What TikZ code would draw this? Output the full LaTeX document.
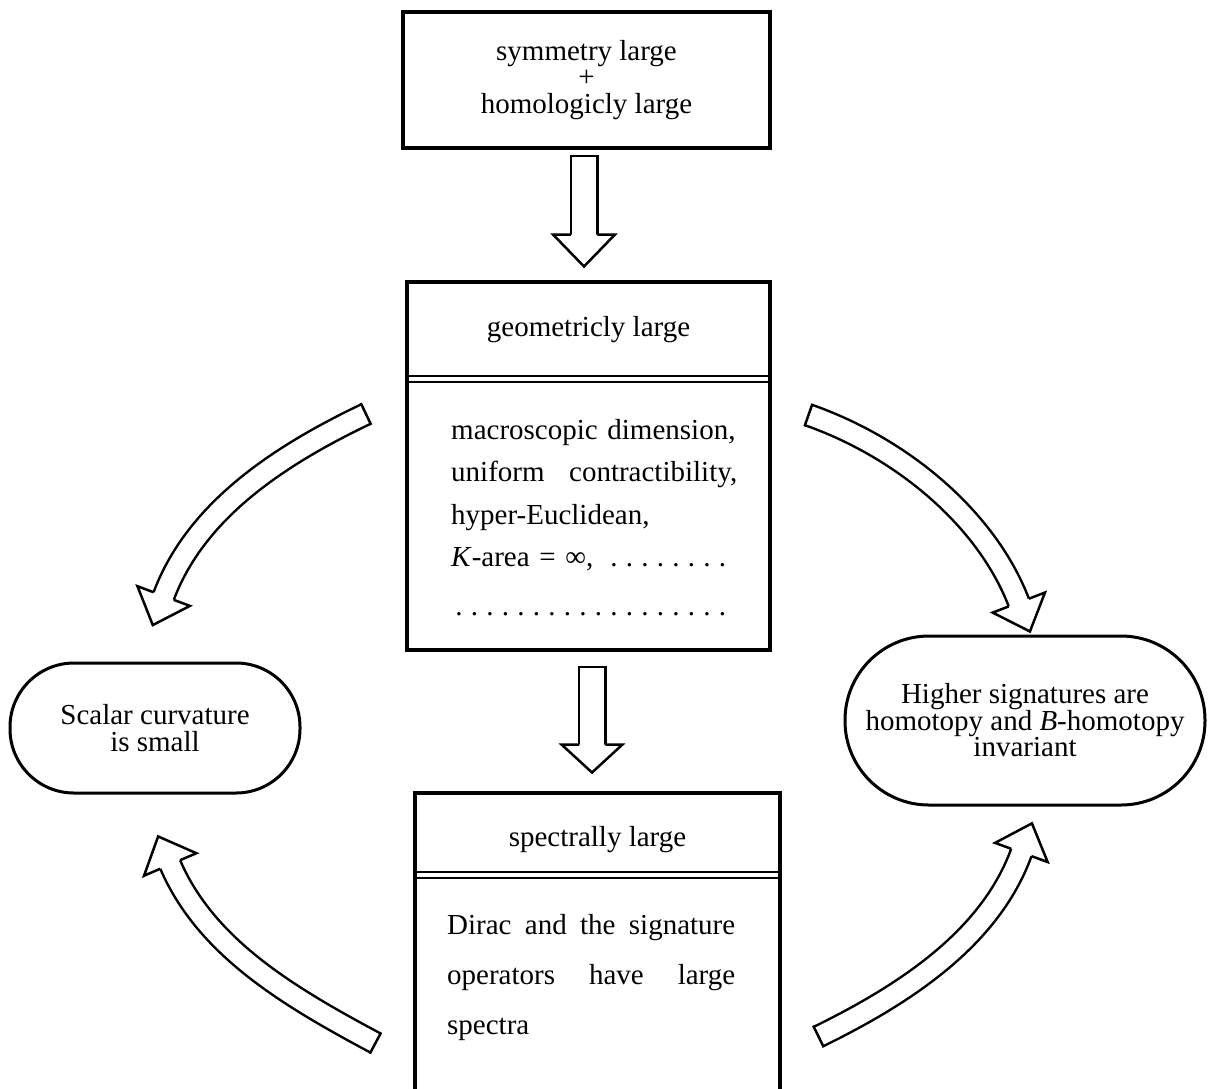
\documentclass[tikz,border=0pt]{standalone}
\usepackage{fontspec}
\setmainfont{Liberation Serif}
\usetikzlibrary{decorations.markings}
\setlength{\lineskiplimit}{-50pt}
\newcommand{\dotrow}{\leavevmode\leaders\hbox to 15.5pt{\hss.\hss}\hfill\kern0pt}

\begin{document}
\begin{tikzpicture}[x=1pt, y=-1pt,
    font=\fontsize{29pt}{26.5pt}\selectfont,
    box/.style={draw, line width=3.5pt, outer sep=0pt, inner sep=0pt},
    stadium/.style={draw, line width=3pt, align=center, inner sep=0pt},
    sep/.style={line width=1.8pt},
    bodytext/.style={anchor=north west, inner sep=0pt, text width=#1, align=left},
    hollow/.style n args={3}{white, line width=#1-5pt,
      preaction={draw, black, line width=#1},
      postaction={decorate},
      decoration={markings,
        mark=at position 0 with {\draw[black, line width=2.5pt] (0pt,-#1/2) -- (0pt,#1/2);},
        mark=at position -0.5pt with {\draw[black, fill=white, line width=2.5pt, line join=miter]
          (0pt,#1/2-1.25pt) -- (0pt,#2) -- (#3,0pt) -- (0pt,-#2) -- (0pt,-#1/2+1.25pt);}}}]
  \useasboundingbox (0,0) rectangle (1210,1088);
  \clip (0,0) rectangle (1210,1088);

  % the three boxes down the middle
  \node[box, minimum width=367pt, minimum height=136pt, align=center] (sym) at (586.5,80)
    {symmetry large\\+\\homologicly large};
  \node[box, minimum width=363pt, minimum height=368pt] (geo) at (588.5,466) {};
  \node[box, minimum width=365pt, minimum height=330pt, anchor=north] (spec) at (597.5,793) {};

  \node (geotitle) at (588.5,330) {geometricly large};
  \node (spectitle) at (597.5,840) {spectrally large};
  \foreach \d in {94,100}
    \draw[sep] ([yshift=-\d pt]geo.north west) -- ([yshift=-\d pt]geo.north east);
  \foreach \d in {79,85}
    \draw[sep] ([yshift=-\d pt]spec.north west) -- ([yshift=-\d pt]spec.north east);

  \node[bodytext=286pt, font=\fontsize{29pt}{42.5pt}\selectfont] (geobody) at (451,419)
    {macroscopic dimension,\\
     uniform \hfill contractibility,\\
     hyper-Euclidean,\\
     \textit{K}-area = ∞, \dotrow\\[6pt]
     \dotrow};
  \node[bodytext=288pt, font=\fontsize{29pt}{50pt}\selectfont] (specbody) at (447,914)
    {Dirac \hfill and \hfill the \hfill signature\\
     operators \hfill have \hfill large\\
     spectra};

  % the two sides
  \node[stadium, rounded corners=64pt, minimum width=290pt, minimum height=130pt] (scal) at (155,728)
    {Scalar curvature\\is small};
  \node[stadium, rounded corners=84pt, minimum width=360pt, minimum height=169pt] (sign) at (1025,720.5)
    {Higher signatures are\\homotopy and \textit{B}-homotopy\\invariant};

  % straight arrows
  \draw[hollow={29pt}{31pt}{32pt}] ([xshift=-2.5pt, yshift=-8pt]sym.south) -- ([xshift=-4.5pt, yshift=47pt]geo.north);
  \draw[hollow={29pt}{30.5pt}{28pt}] ([xshift=3.5pt, yshift=-17pt]geo.south) -- ([xshift=-5.5pt, yshift=48pt]spec.north);

  % bent arrows
  \coordinate (ul-tail) at (366,414);
  \coordinate (ul-head) at (163.5,596.5);
  \coordinate (ur-tail) at (808.5,415);
  \coordinate (ur-head) at (1019,603);
  \coordinate (ll-tail) at (375.5,1043);
  \coordinate (ll-head) at (170,864);
  \coordinate (lr-tail) at (818.5,1036.5);
  \coordinate (lr-head) at (1021.5,852);
  \draw[hollow={24pt}{28pt}{31pt}] (ul-tail) .. controls +(-90,43) and +(31.5,-84.5) .. (ul-head);
  \draw[hollow={24pt}{28pt}{31pt}] (ur-tail) .. controls +(94,33) and +(-32,-84) .. (ur-head);
  \draw[hollow={24pt}{28.5pt}{30.5pt}] (ll-tail) .. controls +(-88,-47) and +(35.5,83) .. (ll-head);
  \draw[hollow={24pt}{28pt}{31pt}] (lr-tail) .. controls +(90,-44) and +(-30.5,84.5) .. (lr-head);
\end{tikzpicture}
\end{document}
